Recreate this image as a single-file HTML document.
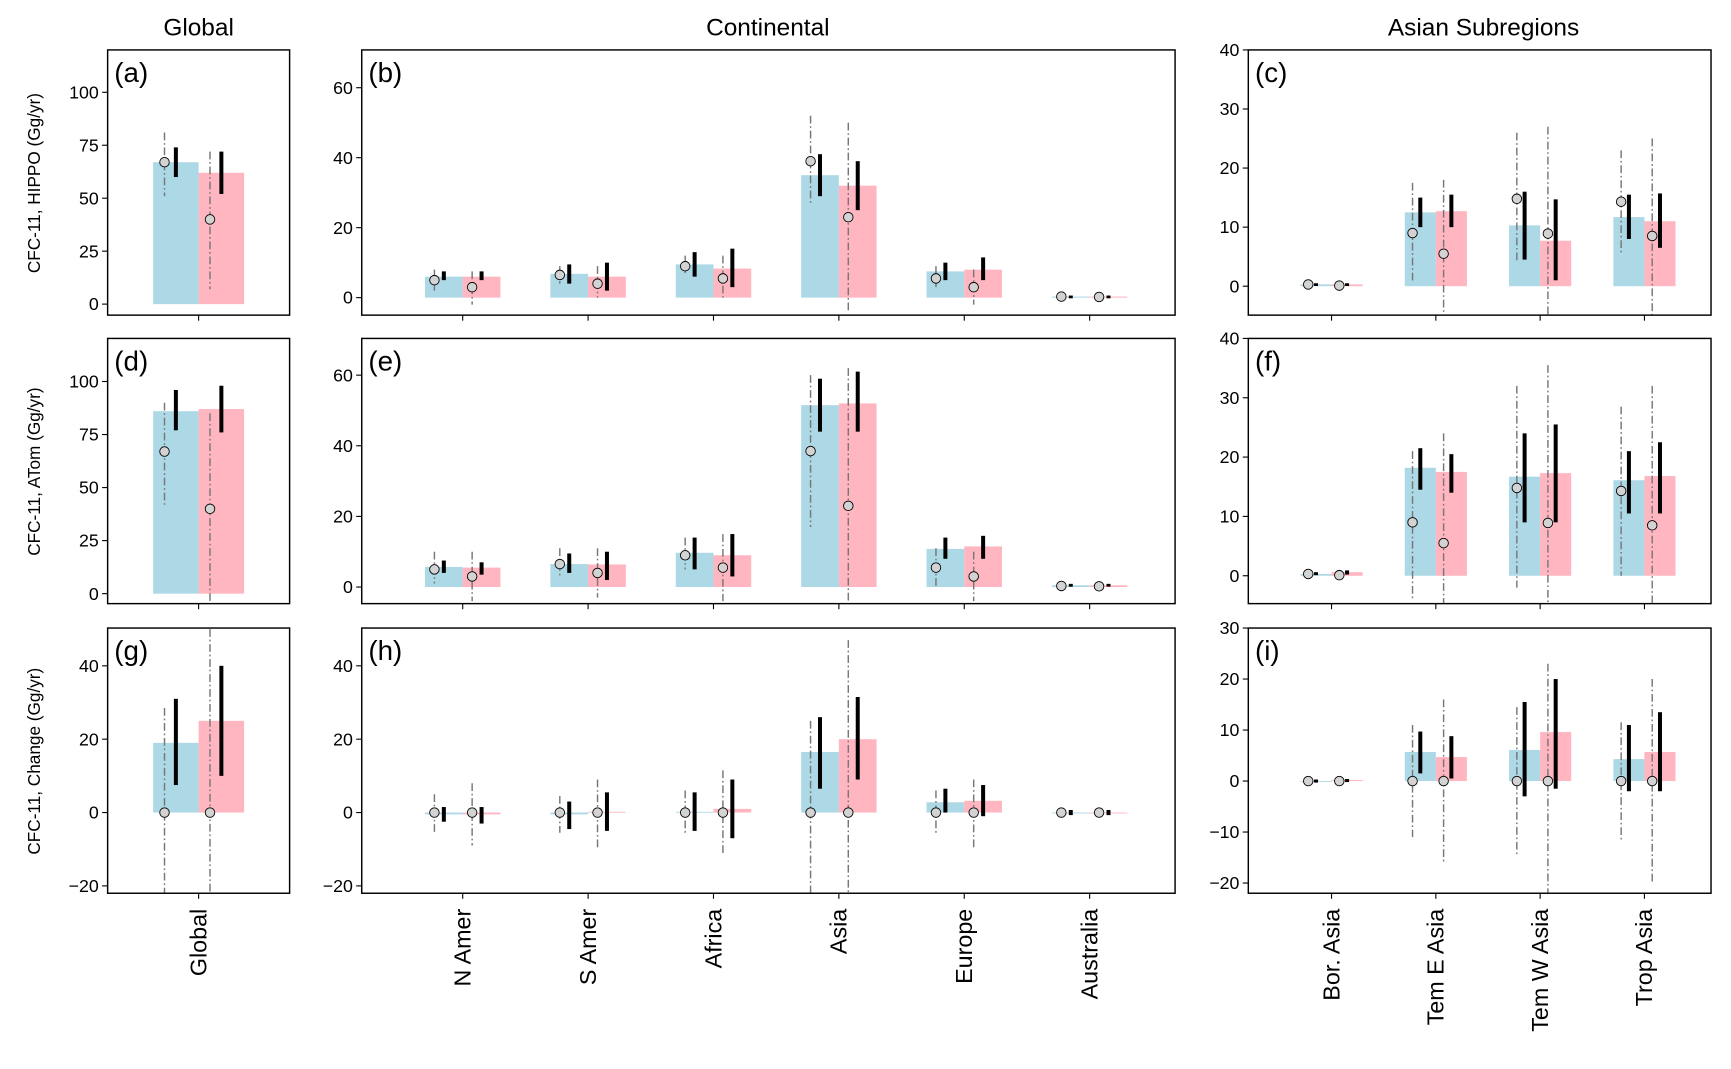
<!DOCTYPE html>
<html><head><meta charset="utf-8">
<style>
html,body{margin:0;padding:0;background:#fff;}
svg{display:block;font-family:"Liberation Sans","DejaVu Sans",sans-serif;}
</style></head>
<body>
<svg id="fig" width="1731" height="1069" viewBox="0 0 1560 963.4" xmlns="http://www.w3.org/2000/svg">
<text x="179" y="32" font-size="22" text-anchor="middle">Global</text>
<text x="692" y="32" font-size="22" text-anchor="middle">Continental</text>
<text x="1337" y="32" font-size="22" text-anchor="middle">Asian Subregions</text>
<text transform="translate(36,165) rotate(-90)" font-size="15.5" text-anchor="middle">CFC-11, HIPPO (Gg/yr)</text>
<text transform="translate(36,425) rotate(-90)" font-size="15.5" text-anchor="middle">CFC-11, ATom (Gg/yr)</text>
<text transform="translate(36,686) rotate(-90)" font-size="15.5" text-anchor="middle">CFC-11, Change (Gg/yr)</text>
</svg>
<script>
const catsGlobal=["Global"];
const catsCont=["N Amer","S Amer","Africa","Asia","Europe","Australia"];
const catsAsia=["Bor. Asia","Tem E Asia","Tem W Asia","Trop Asia"];
const ticksA=[0,25,50,75,100];
const ticksB=[0,20,40,60];
const ticksC=[0,10,20,30,40];
const ticksG=[-20,0,20,40];
const ticksI=[-20,-10,0,10,20,30];

// panel a
const aBlue=[67], aBlueErr=[[60,74]], aBlueObs=[67], aBlueObsErr=[[51,81]];
const aPink=[62], aPinkErr=[[52,72]], aPinkObs=[40], aPinkObsErr=[[7,72]];
// panel b
const bBlue=[6,6.8,9.5,35,7.5,0.3], bBlueErr=[[5,7.5],[4,9.5],[6,13],[29,41],[5,10],[0,0.6]];
const bBlueObs=[5,6.5,9,39,5.5,0.3], bBlueObsErr=[[2,8],[4,9],[7,12],[27,52],[3,9],[0.1,0.5]];
const bPink=[6,6,8.3,32,8,0.3], bPinkErr=[[5,7.5],[2,10],[3,14],[25,39],[5,11.5],[0,0.6]];
const bPinkObs=[3,4,5.5,23,3,0.2], bPinkObsErr=[[-2,7.5],[0,9],[0,12],[-4,50],[-2,8],[0,0.4]];
// panel c
const cBlue=[0.3,12.5,10.3,11.7], cBlueErr=[[0.1,0.5],[10,15],[4.5,16],[8,15.5]];
const cBlueObs=[0.3,9,14.8,14.3], cBlueObsErr=[[0.1,0.5],[0.5,17.5],[4,26],[5.5,23]];
const cPink=[0.3,12.7,7.7,11], cPinkErr=[[0.1,0.5],[10,15.5],[1,14.7],[6.5,15.7]];
const cPinkObs=[0.1,5.5,8.9,8.5], cPinkObsErr=[[0,0.3],[-5,18],[-5,27],[-5,25]];
// panel d
const dBlue=[86], dBlueErr=[[77,96]], dBlueObs=[67], dBlueObsErr=[[41,90]];
const dPink=[87], dPinkErr=[[76,98]], dPinkObs=[40], dPinkObsErr=[[-5,85]];
// panel e
const eBlue=[5.7,6.5,9.7,51.5,10.8,0.5], eBlueErr=[[4,7.5],[4,9.5],[5,14],[44,59],[8,14],[0.1,0.9]];
const eBlueObs=[5,6.5,9,38.5,5.5,0.3], eBlueObsErr=[[1,10],[3,11],[5,14],[17,60],[0,11],[0.1,0.5]];
const ePink=[5.5,6.4,9,52,11.5,0.5], ePinkErr=[[3.5,7],[2,10],[3,15],[44,61],[8,14.5],[0.1,0.9]];
const ePinkObs=[3,4,5.5,23,3,0.2], ePinkObsErr=[[-4,10],[-3,11],[-4,15],[-5,62],[-4,10],[0,0.4]];
// panel f
const fBlue=[0.3,18.2,16.7,16.1], fBlueErr=[[0.1,0.6],[14.5,21.5],[9,24],[10.5,21]];
const fBlueObs=[0.3,9,14.8,14.3], fBlueObsErr=[[0.1,0.5],[-4,21],[-2,32],[0,28.5]];
const fPink=[0.6,17.5,17.3,16.8], fPinkErr=[[0.2,0.9],[14,20.5],[9,25.5],[10.5,22.5]];
const fPinkObs=[0.1,5.5,8.9,8.5], fPinkObsErr=[[0,0.3],[-5,24],[-5,35.5],[-5,32]];
// panel g
const gBlue=[19], gBlueErr=[[7.5,31]], gBlueObs=[0], gBlueObsErr=[[-22,28.5]];
const gPink=[25], gPinkErr=[[10,40]], gPinkObs=[0], gPinkObsErr=[[-22,50]];
// panel h
const hBlue=[-0.5,-0.5,0.2,16.5,2.8,0], hBlueErr=[[-2.5,1.5],[-4.5,3],[-5,5.5],[6.5,26],[0,6.5],[-0.7,0.7]];
const hBlueObs=[0,0,0,0,0,0], hBlueObsErr=[[-6,5],[-5.5,4.5],[-6,6],[-22,25],[-6,6],[-0.3,0.3]];
const hPink=[-0.5,0.2,1,20,3.2,0], hPinkErr=[[-3,1.5],[-5,5.5],[-7,9],[9,31.5],[-1,7.5],[-0.7,0.7]];
const hPinkObs=[0,0,0,0,0,0], hPinkObsErr=[[-9,8],[-9.5,9],[-11.5,11.5],[-22,47],[-9.5,9],[-0.3,0.3]];
// panel i
const iBlue=[0,5.7,6.1,4.3], iBlueErr=[[-0.3,0.3],[1.5,9.7],[-3,15.5],[-2,11]];
const iBlueObs=[0,0,0,0], iBlueObsErr=[[-0.2,0.2],[-11,11],[-14.5,14.5],[-11.5,11.5]];
const iPink=[0.2,4.7,9.6,5.7], iPinkErr=[[-0.2,0.4],[0.5,8.8],[-1.5,20],[-2,13.5]];
const iPinkObs=[0,0,0,0], iPinkObsErr=[[-0.2,0.2],[-16,16],[-22,23],[-20,20]];

const NS="http://www.w3.org/2000/svg";
const fig=document.getElementById('fig');
function mk(tag,attrs,parent){const e=document.createElementNS(NS,tag);for(const k in attrs)e.setAttribute(k,attrs[k]);(parent||fig).appendChild(e);return e;}

function panel(id,label,box,dom,ticks,cats,xs,bw,S,showCats){
  const [x0,y0,x1,y1]=box;
  const g=mk('g',{});
  
  
  const y=v=>y1-(v-dom[0])/(dom[1]-dom[0])*(y1-y0);
  const series=[[S[0],S[1],S[2],S[3],'#add8e6','blue',0],[S[4],S[5],S[6],S[7],'#ffb6c1','pink',1]];
  series.forEach(([vals,err,obs,obsErr,col,nm,side])=>{
    vals.forEach((v,i)=>{
      const left=xs[i]-bw+side*bw;
      const r=mk('rect',{x:left,y:Math.min(y(v),y(0)),width:bw,height:Math.max(0.8,Math.abs(y(v)-y(0))),fill:col},g);
      
      
    });
  });
  series.forEach(([vals,err,obs,obsErr,col,nm,side])=>{
    vals.forEach((v,i)=>{
      const left=xs[i]-bw+side*bw;
      const xd=left+bw*0.25, xb=left+bw*0.5;
      const d=mk('line',{x1:xd,x2:xd,y1:Math.max(y0,y(obsErr[i][1])),y2:Math.min(y1,y(obsErr[i][0])),stroke:'#777','stroke-width':1.3,'stroke-dasharray':'7,2.5,1.5,2.5'},g);
      
      
      const lo=y(err[i][0]),hi=y(err[i][1]);
      const b=mk('rect',{x:xb-1.8,y:hi,width:3.6,height:Math.max(2.5,lo-hi),fill:'#000'},g);
      
      
      const c=mk('circle',{cx:xd,cy:y(obs[i]),r:4.3,fill:'#d3d3d3',stroke:'#000','stroke-width':0.8},g);
      
      
    });
  });
  const fr=mk('rect',{x:x0,y:y0,width:x1-x0,height:y1-y0,fill:'none',stroke:'#000','stroke-width':1.3},g);
  
  
  ticks.forEach(t=>{
    mk('line',{x1:x0-5,x2:x0,y1:y(t),y2:y(t),stroke:'#000','stroke-width':1},g);
    const tl=mk('text',{x:x0-8,y:y(t)+5.5,'font-size':16,'text-anchor':'end'},g);
    tl.textContent=t<0?'\u2212'+(-t):t;
    
    
  });
  cats.forEach((c,i)=>{
    mk('line',{x1:xs[i],x2:xs[i],y1:y1,y2:y1+5,stroke:'#000','stroke-width':1},g);
    if(showCats){
      const t=mk('text',{transform:`translate(${xs[i]+7},${y1+14}) rotate(-90)`,'font-size':21,'text-anchor':'end'},g);
      t.textContent=c;
      
      
    }
  });
  const pl=mk('text',{x:x0+6,y:y0+29,'font-size':25},g);
  pl.textContent='('+label+')';
  
  
}
const xG=[179], xC=catsCont.map((c,i)=>417+i*113), xA=catsAsia.map((c,i)=>1200+i*94);
const R1=[45,284],R2=[305,544],R3=[566,805];
panel('a','a',[97,R1[0],261,R1[1]],[-5.2,120],ticksA,catsGlobal,xG,41,[aBlue,aBlueErr,aBlueObs,aBlueObsErr,aPink,aPinkErr,aPinkObs,aPinkObsErr],false);
panel('b','b',[326,R1[0],1059,R1[1]],[-5,70.8],ticksB,catsCont,xC,34,[bBlue,bBlueErr,bBlueObs,bBlueObsErr,bPink,bPinkErr,bPinkObs,bPinkObsErr],false);
panel('c','c',[1125,R1[0],1542,R1[1]],[-4.9,40],ticksC,catsAsia,xA,28,[cBlue,cBlueErr,cBlueObs,cBlueObsErr,cPink,cPinkErr,cPinkObs,cPinkObsErr],false);
panel('d','d',[97,R2[0],261,R2[1]],[-4.7,120.3],ticksA,catsGlobal,xG,41,[dBlue,dBlueErr,dBlueObs,dBlueObsErr,dPink,dPinkErr,dPinkObs,dPinkObsErr],false);
panel('e','e',[326,R2[0],1059,R2[1]],[-4.7,70.4],ticksB,catsCont,xC,34,[eBlue,eBlueErr,eBlueObs,eBlueObsErr,ePink,ePinkErr,ePinkObs,ePinkObsErr],false);
panel('f','f',[1125,R2[0],1542,R2[1]],[-4.7,40],ticksC,catsAsia,xA,28,[fBlue,fBlueErr,fBlueObs,fBlueObsErr,fPink,fPinkErr,fPinkObs,fPinkObsErr],false);
panel('g','g',[97,R3[0],261,R3[1]],[-22,50.3],ticksG,catsGlobal,xG,41,[gBlue,gBlueErr,gBlueObs,gBlueObsErr,gPink,gPinkErr,gPinkObs,gPinkObsErr],true);
panel('h','h',[326,R3[0],1059,R3[1]],[-22,50.3],ticksG,catsCont,xC,34,[hBlue,hBlueErr,hBlueObs,hBlueObsErr,hPink,hPinkErr,hPinkObs,hPinkObsErr],true);
panel('i','i',[1125,R3[0],1542,R3[1]],[-22,30],ticksI,catsAsia,xA,28,[iBlue,iBlueErr,iBlueObs,iBlueObsErr,iPink,iPinkErr,iPinkObs,iPinkObsErr],true);
</script>
</body></html>
